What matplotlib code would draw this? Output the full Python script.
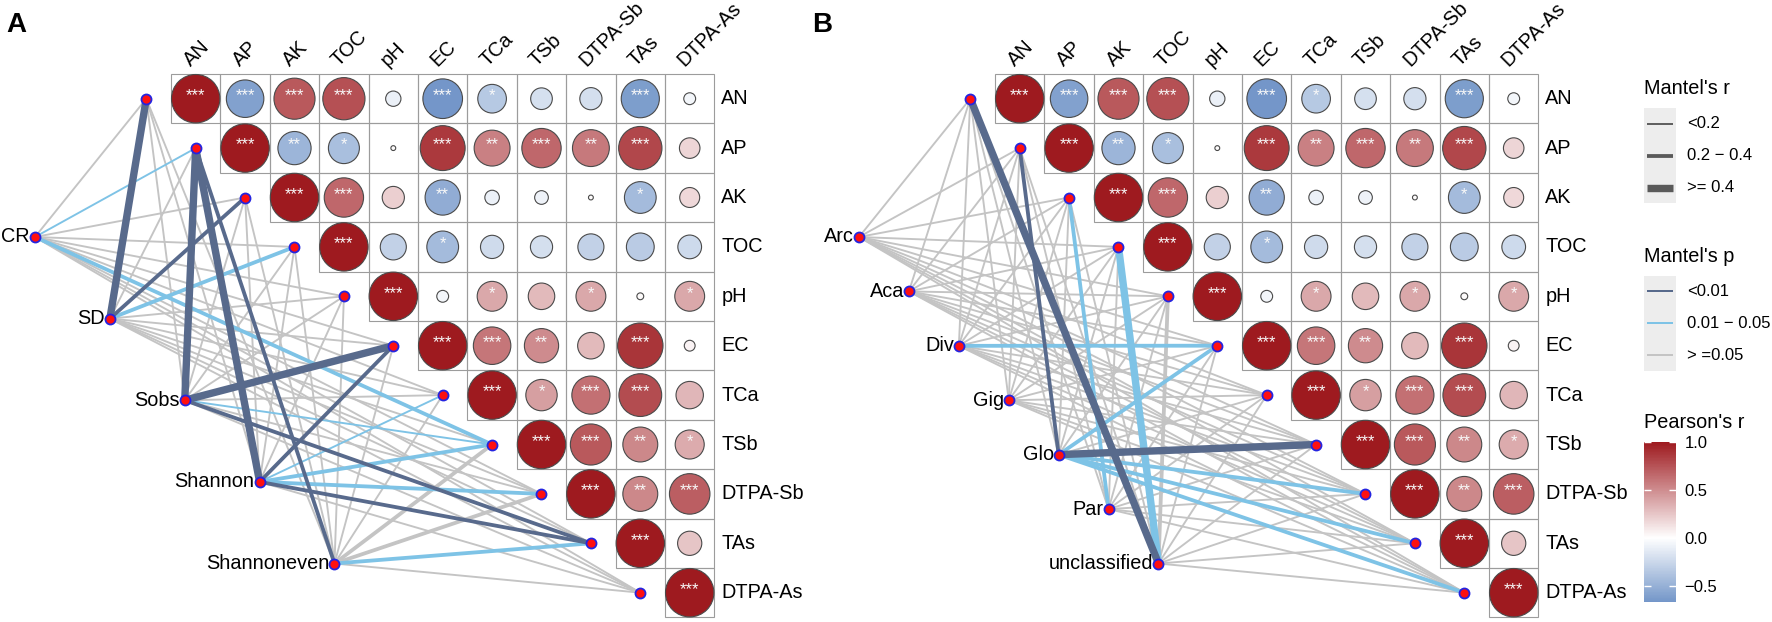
import numpy as np
import matplotlib.pyplot as plt
from matplotlib.patches import Rectangle, Circle
from matplotlib.colors import LinearSegmentedColormap, Normalize
from matplotlib.cm import ScalarMappable

plt.rcParams['font.family'] = ['Liberation Sans', 'DejaVu Sans']

# --- данные ---
env = ["AN", "AP", "AK", "TOC", "pH", "EC", "TCa", "TSb", "DTPA-Sb", "TAs", "DTPA-As"]

# Pearson's r, верхний треугольник (строка i начинается с диагонали)
pearson_r = [
    [1.0, -0.60, 0.72, 0.76, -0.10, -0.67, -0.35, -0.20, -0.21, -0.62, -0.06],
    [1.0, -0.47, -0.41, 0.01, 0.86, 0.55, 0.66, 0.58, 0.80, 0.18],
    [1.0, 0.66, 0.21, -0.53, -0.09, -0.08, 0.01, -0.43, 0.17],
    [1.0, -0.29, -0.43, -0.23, -0.21, -0.29, -0.33, -0.24],
    [1.0, -0.06, 0.38, 0.30, 0.38, 0.02, 0.38],
    [1.0, 0.60, 0.50, 0.30, 0.88, 0.05],
    [1.0, 0.42, 0.62, 0.78, 0.32],
    [1.0, 0.72, 0.52, 0.36],
    [1.0, 0.52, 0.70],
    [1.0, 0.25],
    [1.0],
]
pearson_sig = [
    ["***", "***", "***", "***", "", "***", "*", "", "", "***", ""],
    ["***", "**", "*", "", "***", "**", "***", "**", "***", ""],
    ["***", "***", "", "**", "", "", "", "*", ""],
    ["***", "", "*", "", "", "", "", ""],
    ["***", "", "*", "", "*", "", "*"],
    ["***", "***", "**", "", "***", ""],
    ["***", "*", "***", "***", ""],
    ["***", "***", "**", "*"],
    ["***", "**", "***"],
    ["***", ""],
    ["***"],
]

# Mantel's r: 0 "<0.2", 1 "0.2 - 0.4", 2 ">= 0.4"
# Mantel's p: 0 "<0.01", 1 "0.01 - 0.05", 2 ">=0.05"
species_a = ["CR", "SD", "Sobs", "Shannon", "Shannoneven"]
mantel_r_a = [
    [0, 0, 0, 0, 0, 0, 0, 1, 0, 0, 0],
    [2, 0, 1, 1, 0, 0, 0, 0, 0, 0, 0],
    [0, 2, 0, 0, 0, 2, 0, 0, 0, 1, 0],
    [0, 2, 0, 0, 0, 1, 0, 1, 1, 1, 0],
    [0, 1, 0, 0, 0, 0, 0, 1, 1, 1, 0],
]
mantel_p_a = [
    [2, 1, 2, 2, 2, 2, 2, 1, 2, 2, 2],
    [0, 2, 0, 1, 2, 2, 2, 2, 2, 2, 2],
    [2, 0, 2, 2, 2, 0, 2, 1, 2, 0, 2],
    [2, 0, 2, 2, 2, 0, 1, 1, 1, 0, 2],
    [2, 0, 2, 2, 2, 2, 2, 2, 2, 1, 2],
]

species_b = ["Arc", "Aca", "Div", "Gig", "Glo", "Par", "unclassified"]
mantel_r_b = [
    [0, 0, 0, 0, 0, 0, 0, 0, 0, 0, 0],
    [0, 0, 0, 0, 0, 0, 0, 0, 0, 0, 0],
    [0, 0, 0, 0, 0, 1, 0, 0, 0, 0, 0],
    [0, 0, 0, 0, 0, 0, 0, 0, 0, 0, 0],
    [0, 1, 0, 0, 0, 1, 0, 2, 1, 1, 1],
    [0, 0, 1, 0, 0, 0, 0, 0, 0, 0, 0],
    [2, 0, 0, 2, 1, 0, 0, 0, 0, 0, 0],
]
mantel_p_b = [
    [2, 2, 2, 2, 2, 2, 2, 2, 2, 2, 2],
    [2, 2, 2, 2, 2, 2, 2, 2, 2, 2, 2],
    [2, 2, 2, 2, 2, 1, 2, 2, 2, 2, 2],
    [2, 2, 2, 2, 2, 2, 2, 2, 2, 2, 2],
    [2, 0, 2, 2, 2, 1, 2, 0, 1, 1, 1],
    [2, 2, 1, 2, 2, 2, 2, 2, 2, 2, 2],
    [0, 2, 2, 1, 2, 2, 2, 2, 2, 2, 2],
]

r_labels = ["<0.2", "0.2 \u2212 0.4", ">= 0.4"]
p_labels = ["<0.01", "0.01 \u2212 0.05", "> =0.05"]

# --- оформление ---
W, H = 1772, 622
CELL = 49.4
GRID_TOP = 74
EDGE_PX = [1.9, 3.8, 7.4]
EDGE_COLORS = ["#586A8C", "#7EC3E6", "#C4C4C4"]
PX = 0.72  # px -> pt при dpi=100

cmap = LinearSegmentedColormap.from_list("rb", ["#2F63AE", "#FFFFFF", "#9E1A1F"])
norm = Normalize(-1, 1)


def draw_panel(ax, gx, species, r_cls, p_cls, letter, letter_x):
    n = len(env)
    env_x = gx + (np.arange(n) - 0.5) * CELL
    env_y = GRID_TOP + (np.arange(n) + 0.5) * CELL
    sp_x = np.linspace(gx - 136, gx + 163.5, len(species))
    sp_y = np.linspace(237, 563.5, len(species))

    # связи Mantel
    for k, s in enumerate(species):
        for i in range(n):
            p = p_cls[k][i]
            ax.plot([sp_x[k], env_x[i]], [sp_y[k], env_y[i]], color=EDGE_COLORS[p],
                    lw=EDGE_PX[r_cls[k][i]] * PX, solid_capstyle='butt',
                    zorder=2 + (2 - p) * 0.1)

    # корреляционная матрица
    for i in range(n):
        for j in range(i, n):
            r = pearson_r[i][j - i]
            cx = gx + (j + 0.5) * CELL
            cy = GRID_TOP + (i + 0.5) * CELL
            ax.add_patch(Rectangle((gx + j * CELL, GRID_TOP + i * CELL), CELL, CELL,
                                   fill=False, ec="#9C9C9C", lw=0.8, zorder=3))
            ax.add_patch(Circle((cx, cy), 0.49 * CELL * np.sqrt(abs(r)),
                                fc=cmap(norm(r)), ec="#4A4A4A", lw=0.8, zorder=4))
            sig = pearson_sig[i][j - i]
            if sig:
                ax.text(cx, cy - 3, sig, color="#F8F8F8", fontsize=12, ha='center',
                        va='center', zorder=5)
        ax.text(gx + n * CELL + 7, GRID_TOP + (i + 0.5) * CELL, env[i], fontsize=14.3,
                ha='left', va='center')
        ax.text(gx + (i + 0.5) * CELL - 5, GRID_TOP - 7, env[i], fontsize=14.3,
                rotation=45, ha='left', va='baseline', rotation_mode='anchor')

    # узлы
    ax.scatter(env_x, env_y, s=52, c="#FF1010", edgecolors="#2424E0", linewidths=1.3, zorder=6)
    ax.scatter(sp_x, sp_y, s=52, c="#FF1010", edgecolors="#2424E0", linewidths=1.3, zorder=6)
    for k, s in enumerate(species):
        ax.text(sp_x[k] - 5, sp_y[k], s, fontsize=14.3, ha='right', va='center', zorder=7)

    ax.text(letter_x, 12, letter, fontsize=20, fontweight='bold', ha='left', va='top')


fig = plt.figure(figsize=(W / 100, H / 100), dpi=100)
ax = fig.add_axes([0, 0, 1, 1])
ax.set_xlim(0, W)
ax.set_ylim(H, 0)
ax.axis('off')

draw_panel(ax, 171, species_a, mantel_r_a, mantel_p_a, "A", 6)
draw_panel(ax, 995, species_b, mantel_r_b, mantel_p_b, "B", 812)

# --- легенды ---
LX = 1644
ax.text(LX, 88, "Mantel's r", fontsize=14.3, ha='left', va='center')
ax.add_patch(Rectangle((LX, 108), 32, 95, fc="#EDEDED", ec='none'))
for k, lab in enumerate(r_labels):
    y = 124 + k * 32
    ax.plot([LX + 3, LX + 29], [y, y], color="#5A5A5A", lw=EDGE_PX[k] * PX, solid_capstyle='butt')
    ax.text(LX + 43, y, lab, fontsize=12, ha='left', va='center')

ax.text(LX, 256, "Mantel's p", fontsize=14.3, ha='left', va='center')
ax.add_patch(Rectangle((LX, 276), 32, 95, fc="#EDEDED", ec='none'))
for k, lab in enumerate(p_labels):
    y = 291 + k * 32
    ax.plot([LX + 3, LX + 29], [y, y], color=EDGE_COLORS[k], lw=2.0 * PX, solid_capstyle='butt')
    ax.text(LX + 43, y, lab, fontsize=12, ha='left', va='center')

ax.text(LX, 423, "Pearson's r", fontsize=14.3, ha='left', va='center')
r_min = min(min(row) for row in pearson_r)
cax = fig.add_axes([LX / W, 1 - 602 / H, 32 / W, 160 / H])
cb = fig.colorbar(ScalarMappable(norm=norm, cmap=cmap), cax=cax)
cax.set_ylim(r_min, 1.0)
cb.outline.set_visible(False)
cb.set_ticks([-0.5, 0.0, 0.5, 1.0], labels=["\u22120.5", "0.0", "0.5", "1.0"])
cax.tick_params(direction='in', color='white', length=5, width=1, left=True, right=True,
                labelleft=False, labelright=True, labelsize=12, pad=6)

fig.savefig("out.png", dpi=100)
